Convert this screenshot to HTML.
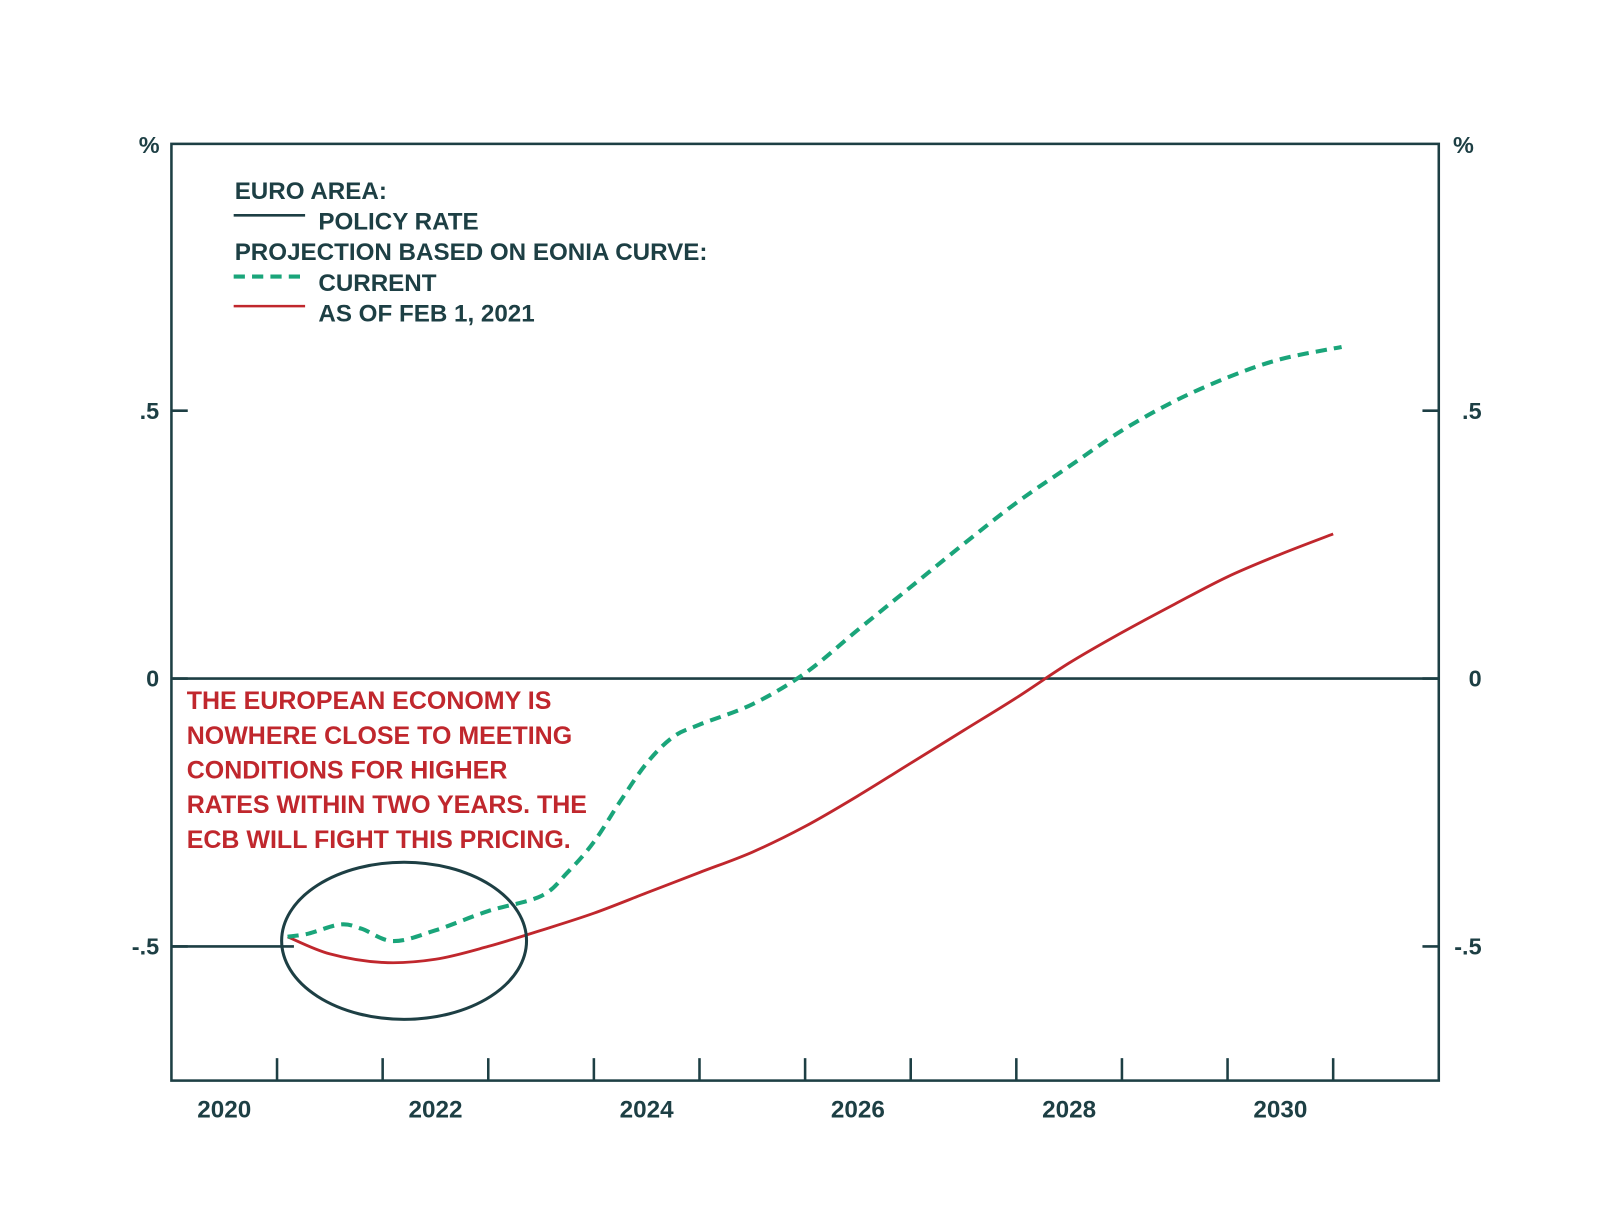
<!DOCTYPE html>
<html><head><meta charset="utf-8"><style>
html,body{margin:0;padding:0;background:#fff;}
svg text{font-family:"Liberation Sans",Arial,sans-serif;font-weight:bold;}
</style></head><body>
<svg id="chart" width="1600" height="1226" viewBox="0 0 1568 1201.5" preserveAspectRatio="none" xmlns="http://www.w3.org/2000/svg">
<rect width="1568" height="1202" fill="#fff"/>
<g id="axes"></g>
<g id="series"></g>
<g fill="#1d3f44" font-size="23.7">
<text x="230" y="195">EURO AREA:</text>
<line x1="229" y1="211" x2="299" y2="211" stroke="#1d3f44" stroke-width="2.5"/>
<text x="312" y="225">POLICY RATE</text>
<text x="230" y="255">PROJECTION BASED ON EONIA CURVE:</text>
<line x1="229" y1="271" x2="299" y2="271" stroke="#1aa57a" stroke-width="4" stroke-dasharray="11,7"/>
<text x="312" y="285">CURRENT</text>
<line x1="229" y1="300" x2="299" y2="300" stroke="#c0272d" stroke-width="2.5"/>
<text x="312" y="315">AS OF FEB 1, 2021</text>
</g>
<g fill="#c0272d" font-size="24.5" font-weight="normal">
<text x="183" y="695">THE EUROPEAN ECONOMY IS</text>
<text x="183" y="729">NOWHERE CLOSE TO MEETING</text>
<text x="183" y="763">CONDITIONS FOR HIGHER</text>
<text x="183" y="797">RATES WITHIN TWO YEARS. THE</text>
<text x="183" y="831">ECB WILL FIGHT THIS PRICING.</text>
</g>
<ellipse cx="396" cy="922" rx="120" ry="77" fill="none" stroke="#1d3f44" stroke-width="3"/>
</svg>
<script>
const yTicks=[0.5,0,-0.5];
const yTickLabels=[".5","0","-.5"];
const xLabelYears=[2020,2022,2024,2026,2028,2030];
const xTickYears=[2021,2022,2023,2024,2025,2026,2027,2028,2029,2030,2031];
const policyYears=[2020.0,2021.16];
const policyValues=[-0.5,-0.5];
const febYears=[2021.1,2021.5,2022.0,2022.5,2023.0,2023.5,2024.0,2024.5,2025.0,2025.5,2026.0,2026.5,2027.0,2027.5,2028.0,2028.5,2029.0,2029.5,2030.0,2030.5,2031.0];
const febValues=[-0.482,-0.514,-0.53,-0.524,-0.5,-0.47,-0.438,-0.40,-0.362,-0.324,-0.276,-0.219,-0.158,-0.097,-0.036,0.029,0.086,0.139,0.19,0.232,0.27];
const curYears=[2021.1,2021.3,2021.6,2021.8,2022.1,2022.5,2023.0,2023.5,2023.75,2024.0,2024.25,2024.5,2024.75,2025.0,2025.5,2026.0,2026.5,2027.0,2027.5,2028.0,2028.5,2029.0,2029.5,2030.0,2030.5,2031.08];
const curValues=[-0.482,-0.476,-0.459,-0.467,-0.49,-0.47,-0.434,-0.406,-0.362,-0.305,-0.229,-0.158,-0.109,-0.086,-0.048,0.01,0.091,0.171,0.251,0.328,0.396,0.463,0.518,0.562,0.596,0.619];

const L=168,R=1410,T=141,B=1059;
const x=y=>L+(y-2020)*(R-L)/12;
const yv=v=>665-v*525;
const NS="http://www.w3.org/2000/svg";
const axes=document.getElementById('axes'),ser=document.getElementById('series');
function mk(tag,attrs,parent){const e=document.createElementNS(NS,tag);for(const k in attrs)e.setAttribute(k,attrs[k]);parent.appendChild(e);return e;}
const C="#1d3f44";
let e=mk('rect',{x:L,y:T,width:R-L,height:B-T,fill:'none',stroke:C,'stroke-width':2.5},axes);


e=mk('line',{x1:L,x2:R,y1:yv(0),y2:yv(0),stroke:C,'stroke-width':2.5},axes);


yTicks.forEach((v,i)=>{
 e=mk('line',{x1:L,x2:L+16,y1:yv(v),y2:yv(v),stroke:C,'stroke-width':2.5},axes);
 
 
 e=mk('line',{x1:R-16,x2:R,y1:yv(v),y2:yv(v),stroke:C,'stroke-width':2.5},axes);
 
 
 e=mk('text',{x:156,y:yv(v)+8,'text-anchor':'end',fill:C,'font-size':23},axes);e.textContent=yTickLabels[i];
 
 
 e=mk('text',{x:1452,y:yv(v)+8,'text-anchor':'end',fill:C,'font-size':23},axes);e.textContent=yTickLabels[i];
 
 
});
e=mk('text',{x:136,y:150,fill:C,'font-size':23},axes);e.textContent='%';


e=mk('text',{x:1424,y:150,fill:C,'font-size':23},axes);e.textContent='%';


xTickYears.forEach(yr=>{
 e=mk('line',{x1:x(yr),x2:x(yr),y1:B-22,y2:B,stroke:C,'stroke-width':2.5},axes);
 
 
});
xLabelYears.forEach(yr=>{
 e=mk('text',{x:x(yr+0.5),y:1095,'text-anchor':'middle',fill:C,'font-size':23.8},axes);e.textContent=yr;
 
 
});
function smooth(xs,vs){const p=xs.map((a,i)=>[x(a),yv(vs[i])]);let d=`M${p[0][0]},${p[0][1]}`;
 for(let i=0;i<p.length-1;i++){const p0=p[i-1]||p[i],p1=p[i],p2=p[i+1],p3=p[i+2]||p2;
 d+=` C${p1[0]+(p2[0]-p0[0])/6},${p1[1]+(p2[1]-p0[1])/6} ${p2[0]-(p3[0]-p1[0])/6},${p2[1]-(p3[1]-p1[1])/6} ${p2[0]},${p2[1]}`;}return d;}
e=mk('path',{d:smooth(policyYears,policyValues),fill:'none',stroke:C,'stroke-width':2.5},ser);


e=mk('path',{d:smooth(febYears,febValues),fill:'none',stroke:'#c0272d','stroke-width':2.8},ser);


e=mk('path',{d:smooth(curYears,curValues),fill:'none',stroke:'#1aa57a','stroke-width':4,'stroke-dasharray':'11,7'},ser);


</script>
</body></html>
